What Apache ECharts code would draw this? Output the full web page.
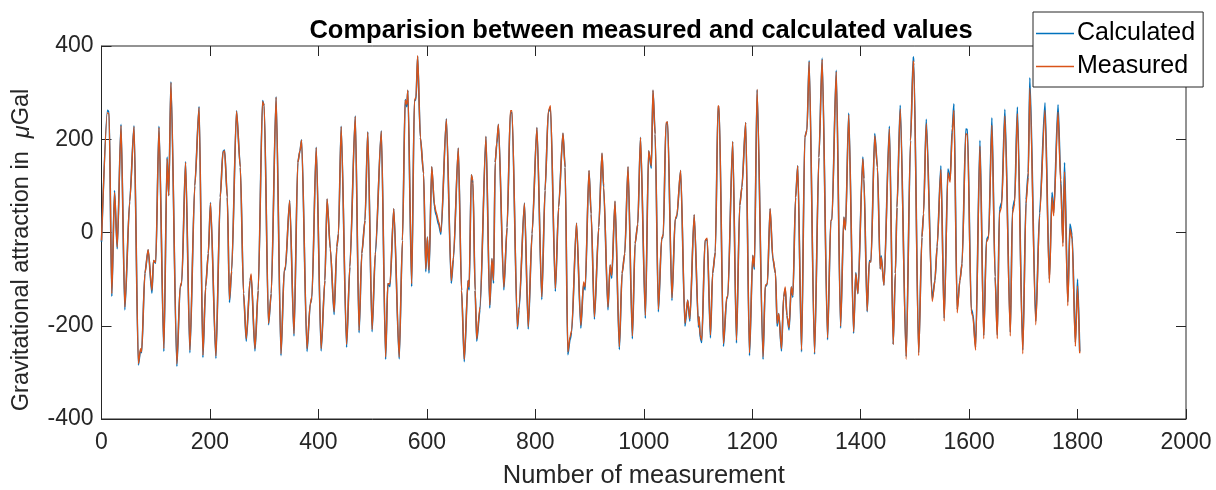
<!DOCTYPE html>
<html>
<head>
<meta charset="utf-8">
<script src="https://cdn.jsdelivr.net/npm/echarts@6/dist/echarts.min.js"></script>
<style>html,body{margin:0;padding:0;background:#fff;}#chart{width:1216px;height:490px;}</style>
</head>
<body>
<div id="chart"></div>
<script>
const measured = [
[0,-17],[11,257],[14,254],[19,-131],[24,86],[29,-31],[36,229],[43,-160],[52,65],[60,227],[68,-281],[72,-249],[74,-256],[80,-88],[86,-37],[93,-124],[96,-60],[100,-64],[106,225],[115,-249],[121,158],[124,79],[128,322],[139,-282],[145,-117],[148,-106],[155,150],[163,-252],
[172,100],[180,268],[187,-263],[192,-117],[197,-45],[201,63],[211,-265],[219,76],[224,172],[227,175],[232,76],[236,-144],[240,-81],[249,260],[256,140],[262,-131],[267,-228],[274,-103],[276,-89],[283,-249],[289,-124],[297,281],[300,272],[308,-195],[313,-131],[322,290],[331,-260],[337,-81],[339,-74],[347,68],[355,-217],
[362,150],[366,175],[369,198],[379,-249],[385,-153],[388,-138],[396,182],[405,-249],[412,-103],[416,72],[422,-35],[429,-170],[434,-31],[437,-3],[442,227],[452,-240],[458,-74],[468,249],[475,-210],[480,-45],[486,26],[491,215],[499,-208],[505,-42],[516,217],[524,-267],[528,-110],[532,-110],[539,51],
[549,-267],[555,-17],[560,284],[563,275],[565,305],[572,-110],[577,282],[580,291],[583,379],[588,204],[594,126],[598,-78],[601,-10],[604,-81],[609,141],[614,61],[617,44],[622,22],[626,1],[636,243],[645,-103],[649,-53],[658,181],[664,-124],[669,-272],[676,-103],[678,-117],[682,124],[685,111],[689,-124],[692,-228],[698,-160],[709,206],[716,-156],[720,-56],[723,-103],
[726,150],[729,193],[732,232],[742,-117],[748,11],[754,261],[757,261],[767,-202],[770,-160],[780,63],[787,-202],[794,-3],[803,225],[812,-138],[818,90],[824,260],[828,272],[837,-120],[843,54],[851,213],[855,140],[860,-256],[864,-224],[867,-210],[876,20],[884,-199],[889,-106],[892,-117],[899,133],[903,40],[909,-181],
[917,11],[923,170],[926,101],[934,-160],[938,-70],[941,-92],[947,67],[955,-245],[960,-88],[965,-45],[971,141],[979,-222],[984,-24],[989,18],[994,204],[1003,-178],[1009,175],[1014,143],[1017,305],[1021,211],[1027,-165],[1033,-14],[1036,-3],[1041,236],[1044,237],[1052,-140],[1058,29],[1061,37],[1068,133],[1076,-195],[1081,-145],[1085,-185],[1093,38],
[1101,-199],[1102,-181],[1104,-220],[1107,-231],[1113,-17],[1117,-12],[1123,-220],[1127,-88],[1132,-42],[1137,272],[1139,268],[1147,-238],[1153,-138],[1155,-138],[1164,195],[1171,-231],[1177,58],[1181,97],[1188,236],[1195,-258],[1201,-49],[1204,-74],[1209,307],[1220,-267],[1224,-113],[1228,-110],[1233,51],[1238,-53],[1243,-88],[1246,-195],[1249,-174],[1254,-249],[1258,-138],[1261,-117],[1264,-178],[1268,-204],[1272,-117],[1275,-135],
[1280,75],[1284,143],[1291,-252],[1297,204],[1301,220],[1305,366],[1315,-258],[1323,161],[1329,371],[1339,-226],[1345,26],[1347,27],[1355,345],[1363,-201],[1369,33],[1372,6],[1378,252],[1387,-213],[1391,-88],[1395,-131],[1404,158],[1406,115],[1412,-168],[1416,-63],[1419,-63],[1426,207],[1431,140],[1436,-78],[1438,-53],[1443,-113],[1453,222],[1460,-240],
[1464,-88],[1467,54],[1473,265],[1484,-272],[1492,197],[1497,368],[1498,358],[1507,-264],[1513,-10],[1516,40],[1521,234],[1532,-148],[1537,-103],[1541,-31],[1548,135],[1554,-190],[1561,128],[1565,108],[1569,215],[1572,262],[1578,-172],[1583,-103],[1587,-67],[1594,212],[1597,210],[1604,-170],[1607,-180],[1612,-252],[1620,185],[1627,-228],[1632,-20],[1636,-12],[1642,230],[1648,-95],
[1652,-228],[1656,42],[1660,55],[1666,250],[1676,-222],[1680,42],[1684,62],[1689,255],[1699,-260],[1705,62],[1709,118],[1712,310],[1723,-198],[1730,36],[1740,262],[1748,-108],[1753,75],[1756,36],[1764,258],[1769,105],[1773,-30],[1776,130],[1782,-157],[1786,8],[1790,-14],[1796,-244],[1800,-115],[1804,-259]
];
const calculated = [
[0,-20],[11,262],[14,258],[19,-137],[24,90],[29,-35],[36,232],[43,-166],[52,67],[60,229],[68,-284],[72,-252],[74,-258],[80,-88],[86,-37],[93,-130],[96,-60],[100,-66],[106,228],[115,-255],[121,162],[124,79],[128,323],[139,-287],[145,-117],[148,-108],[155,152],[163,-258],
[172,100],[180,270],[187,-268],[192,-117],[197,-45],[201,64],[211,-270],[219,76],[224,174],[227,177],[232,76],[236,-150],[240,-84],[249,261],[256,140],[262,-131],[267,-233],[274,-103],[276,-93],[283,-254],[289,-124],[297,283],[300,272],[308,-198],[313,-131],[322,291],[331,-264],[337,-81],[339,-80],[347,69],[355,-222],
[362,150],[366,175],[369,199],[379,-255],[385,-153],[388,-140],[396,183],[405,-254],[412,-103],[416,72],[422,-35],[429,-176],[434,-31],[437,-3],[442,228],[452,-246],[458,-74],[468,250],[475,-215],[480,-45],[486,26],[491,216],[499,-213],[505,-47],[516,218],[524,-272],[528,-110],[532,-116],[539,51],
[549,-271],[555,-17],[560,285],[563,270],[565,305],[572,-116],[577,282],[580,286],[583,378],[588,204],[594,126],[598,-84],[601,-10],[604,-87],[609,141],[614,55],[617,38],[622,16],[626,-4],[636,244],[645,-109],[649,-58],[658,181],[664,-124],[669,-277],[676,-103],[678,-123],[682,124],[685,106],[689,-124],[692,-233],[698,-166],[709,206],[716,-162],[720,-56],[723,-109],
[726,150],[729,190],[732,232],[742,-123],[748,11],[754,256],[757,258],[767,-207],[770,-166],[780,63],[787,-207],[794,-3],[803,225],[812,-144],[818,90],[824,258],[828,268],[837,-126],[843,54],[851,213],[855,140],[860,-262],[864,-230],[867,-214],[876,20],[884,-205],[889,-111],[892,-123],[899,133],[903,40],[909,-186],
[917,11],[923,170],[926,96],[934,-166],[938,-70],[941,-98],[947,67],[955,-251],[960,-88],[965,-45],[971,141],[979,-228],[984,-24],[989,18],[994,204],[1003,-184],[1009,175],[1014,138],[1017,305],[1021,211],[1027,-170],[1033,-14],[1036,-8],[1041,232],[1044,237],[1052,-146],[1058,29],[1061,33],[1068,133],[1076,-201],[1081,-145],[1085,-190],[1093,38],
[1101,-203],[1102,-181],[1104,-225],[1107,-236],[1113,-17],[1117,-15],[1123,-226],[1127,-88],[1132,-42],[1137,270],[1139,268],[1147,-244],[1153,-142],[1155,-138],[1164,195],[1171,-237],[1177,58],[1181,97],[1188,236],[1195,-264],[1201,-49],[1204,-79],[1209,306],[1220,-272],[1224,-117],[1228,-110],[1233,51],[1238,-56],[1243,-88],[1246,-201],[1249,-174],[1254,-254],[1258,-138],[1261,-121],[1264,-178],[1268,-209],[1272,-117],[1275,-139],
[1280,75],[1284,143],[1291,-256],[1297,204],[1301,220],[1305,369],[1315,-261],[1323,161],[1329,374],[1339,-230],[1345,26],[1347,27],[1355,348],[1363,-205],[1369,33],[1372,6],[1378,256],[1387,-216],[1391,-86],[1395,-131],[1404,162],[1406,115],[1412,-170],[1416,-60],[1419,-63],[1426,212],[1431,140],[1436,-78],[1438,-50],[1443,-113],[1453,228],[1460,-240],
[1464,-88],[1467,54],[1473,273],[1484,-266],[1492,197],[1497,377],[1498,365],[1507,-258],[1513,-10],[1516,40],[1521,243],[1532,-142],[1537,-103],[1541,-31],[1548,143],[1554,-184],[1561,136],[1565,114],[1569,224],[1572,276],[1578,-165],[1583,-103],[1587,-67],[1594,222],[1597,221],[1604,-164],[1607,-175],[1612,-246],[1620,198],[1627,-221],[1632,-15],[1636,-8],[1642,246],[1648,-95],
[1652,-220],[1656,50],[1660,64],[1666,264],[1676,-214],[1680,50],[1684,70],[1689,269],[1699,-252],[1705,70],[1709,128],[1712,332],[1723,-190],[1730,42],[1740,278],[1748,-100],[1753,86],[1756,42],[1764,274],[1769,114],[1773,-22],[1776,150],[1782,-149],[1786,18],[1790,-6],[1796,-236],[1800,-100],[1804,-255]
];
const seriesNames = ['Calculated', 'Measured'];
const xTicks = {min: 0, max: 2000, interval: 200};
const yTicks = {min: -400, max: 400, interval: 200};

const chart = echarts.init(document.getElementById('chart'));
const axisColor = '#262626';
const font = 'Liberation Sans, Arial, Helvetica, sans-serif';
const mkTick = {show: true, inside: true, length: 10, lineStyle: {color: axisColor, width: 1}};
const plain = v => String(v);
chart.setOption({
  animation: false,
  title: {
    text: 'Comparision between measured and calculated values',
    left: 636, textAlign: 'center', top: 13,
    textStyle: {fontFamily: font, fontSize: 25.5, fontWeight: 'bold', color: '#000'}
  },
  legend: {
    data: seriesNames, orient: 'vertical', left: 1033, top: 12,
    icon: 'rect', itemWidth: 38, itemHeight: 1.5, itemGap: 8,
    padding: [9, 8, 8, 3], borderColor: axisColor, borderWidth: 1, backgroundColor: '#fff',
    textStyle: {fontFamily: font, fontSize: 25, color: '#000', padding: [0, 0, 0, -2]}
  },
  graphic: [{
    type: 'text', x: 22, y: 250, rotation: Math.PI / 2,
    style: {
      text: 'Gravitational attraction in  {i|μ}Gal',
      fontFamily: font, fontSize: 23.5, fill: axisColor,
      align: 'center', verticalAlign: 'middle',
      rich: {i: {fontFamily: font, fontSize: 23.5, fontStyle: 'italic', fill: axisColor}}
    }
  }],
  grid: {left: 101.5, right: 30, top: 46, bottom: 71, show: true, borderColor: axisColor, borderWidth: 1, containLabel: false, outerBoundsMode: 'none'},
  xAxis: [{
    type: 'value', min: xTicks.min, max: xTicks.max, interval: xTicks.interval,
    name: 'Number of measurement', nameLocation: 'middle', nameGap: 44,
    nameTextStyle: {fontFamily: font, fontSize: 25.5, color: axisColor},
    axisLine: {show: true, onZero: false, lineStyle: {color: axisColor}}, axisTick: mkTick,
    axisLabel: {fontFamily: font, fontSize: 23, color: axisColor, margin: 12, formatter: plain},
    splitLine: {show: false}
  }, {
    type: 'value', position: 'top', min: xTicks.min, max: xTicks.max, interval: xTicks.interval,
    axisLine: {show: false, onZero: false}, axisTick: mkTick, axisLabel: {show: false}, splitLine: {show: false}
  }],
  yAxis: [{
    type: 'value', min: yTicks.min, max: yTicks.max, interval: yTicks.interval,
    axisLine: {show: true, onZero: false, lineStyle: {color: axisColor}}, axisTick: mkTick,
    axisLabel: {fontFamily: font, fontSize: 23, color: axisColor, margin: 8, formatter: plain},
    splitLine: {show: false}
  }, {
    type: 'value', position: 'right', min: yTicks.min, max: yTicks.max, interval: yTicks.interval,
    axisLine: {show: false, onZero: false}, axisTick: mkTick, axisLabel: {show: false}, splitLine: {show: false}
  }],
  series: [
    {name: seriesNames[0], type: 'line', data: calculated, symbol: 'none', smooth: 0.25, smoothMonotone: 'x',
     lineStyle: {color: '#0072BD', width: 1.6}, itemStyle: {color: '#0072BD'}, z: 2},
    {name: seriesNames[1], type: 'line', data: measured, symbol: 'none', smooth: 0.25, smoothMonotone: 'x',
     lineStyle: {color: '#D95319', width: 1.4}, itemStyle: {color: '#D95319'}, z: 3}
  ]
});
</script>
</body>
</html>
